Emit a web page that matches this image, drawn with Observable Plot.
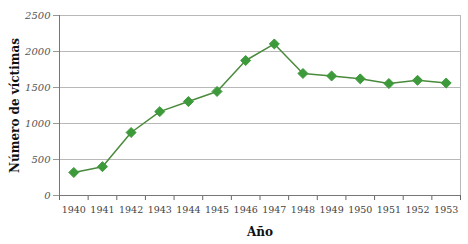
<!DOCTYPE html>
<html><head><meta charset="utf-8">
<script src="https://cdn.jsdelivr.net/npm/d3@7"></script>
<script src="https://cdn.jsdelivr.net/npm/@observablehq/plot@0.6"></script>
<style>
html,body{margin:0;padding:0;background:#fff;}
</style>
</head><body>
<div id="chart"></div>
<script>
const years = [1940,1941,1942,1943,1944,1945,1946,1947,1948,1949,1950,1951,1952,1953];
const victims = [320,400,875,1165,1305,1445,1875,2105,1695,1660,1620,1555,1600,1562];
const yTicks = [0,500,1000,1500,2000,2500];
const xTitle = "Año";
const yTitle = "Número de víctimas";

const data = years.map((y,i)=>({year:y, v:victims[i]}));
const bounds = [...years.map(y=>y-0.5), years[years.length-1]+0.5];

const plot = Plot.plot({
  width: 468, height: 244,
  marginLeft: 59, marginRight: 8, marginTop: 15, marginBottom: 49,
  style: {fontFamily: "'DejaVu Serif', serif", background: "#fff"},
  x: {type: "linear", domain: [bounds[0], bounds[bounds.length-1]]},
  y: {domain: [0, 2500]},
  marks: [
    Plot.gridY(yTicks.filter(d=>d>0), {stroke: "#b8b8b8", strokeOpacity: 1, strokeWidth: 1}),
    Plot.ruleX([bounds[bounds.length-1]], {stroke: "#b8b8b8", y1: 0, y2: 2500}),
    Plot.axisY({ticks: yTicks, tickSize: 6, tickFormat: d=>String(d), fontStyle: "italic", fontSize: 10, fill: "#555", stroke: "#999", tickPadding: 3, label: null}),
    Plot.axisX({ticks: bounds, tickSize: 5, tickFormat: () => "", stroke: "#666", label: null}),
    Plot.axisX({ticks: years, tickSize: 0, tickFormat: d=>String(d), fontSize: 9.5, fill: "#444", tickPadding: 11, label: null}),
    Plot.ruleX([bounds[0]], {stroke: "#777"}),
    Plot.ruleY([0], {stroke: "#777"}),
    Plot.line(data, {x: "year", y: "v", stroke: "#4a8a3c", strokeWidth: 1.5}),
    Plot.dot(data, {x: "year", y: "v", symbol: "diamond2", r: 4.5, fill: "#3c9a3a", stroke: "#3c9a3a", strokeWidth: 1}),
    Plot.text([xTitle], {frameAnchor: "bottom", dy: 40, text: d=>d, fontWeight: "bold", fontSize: 12, fill: "#111", fontFamily: "'DejaVu Serif', serif"}),
    Plot.text([yTitle], {frameAnchor: "left", dx: -44, rotate: -90, textAnchor: "middle", text: d=>d, fontWeight: "bold", fontSize: 12, fill: "#111", fontFamily: "'DejaVu Serif', serif"})
  ]
});
document.getElementById("chart").appendChild(plot);
</script>
</body></html>
